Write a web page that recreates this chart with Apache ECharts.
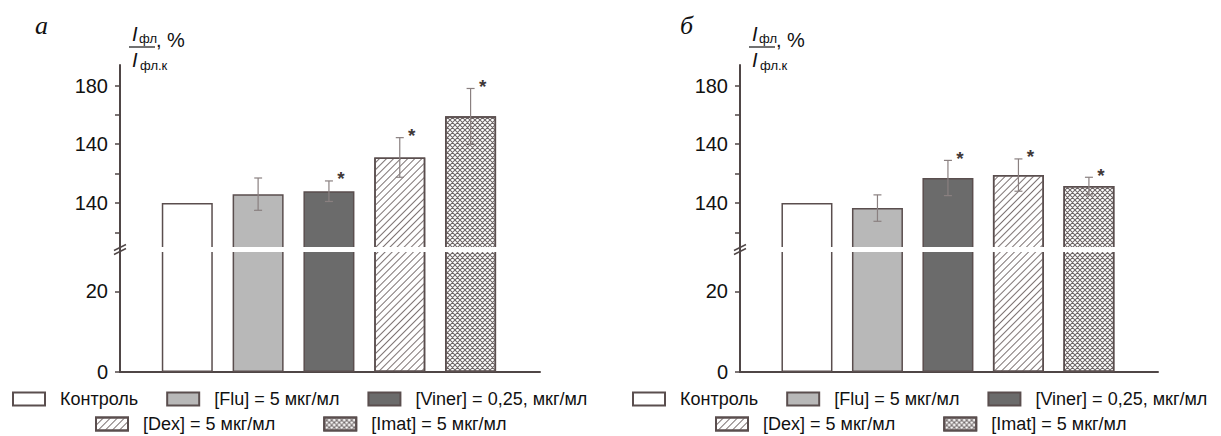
<!DOCTYPE html>
<html>
<head>
<meta charset="utf-8">
<script src="https://cdn.jsdelivr.net/npm/echarts@6/dist/echarts.min.js"></script>
<style>
html,body{margin:0;padding:0;background:#fff;}
#chart{width:1221px;height:436px;}
</style>
</head>
<body>
<div id="chart"></div>
<script>
// ---------- DATA ----------
const categories = ['Контроль', '[Flu] = 5 мкг/мл', '[Viner] = 0,25, мкг/мл', '[Dex] = 5 мкг/мл', '[Imat] = 5 мкг/мл'];
const panelLabels = ['а', 'б'];
const valuesA = [100, 106, 108, 131, 159];
const errorsA = [0, 11, 7, 13.5, 19];
const starsA  = [false, false, true, true, true];
const valuesB = [100, 96.5, 117, 119, 111.5];
const errorsB = [0, 9, 12, 11, 6];
const starsB  = [false, false, true, true, true];
const yTickValues = [0, 20, 100, 140, 180];
const yTickLabels = ['0', '20', '140', '140', '180'];
const yMinorTicks = [80, 120, 160];

// ---------- broken-axis scale ----------
const BREAK_LOW = 29.8, BREAK_HIGH = 70, LOW_SCALE = 4.025, UP_SCALE = 1.4667, GAP = 5;
const Y_TOP = 194;
function toAxis(v) {
  if (v <= BREAK_LOW) return v * LOW_SCALE;
  return BREAK_LOW * LOW_SCALE + GAP + (v - BREAK_HIGH) * UP_SCALE;
}
const X_MIN = 0.05, X_MAX = 5.98;

const AXIS_COLOR = '#4f4646';
const BORDER = '#5a4e4e';
const ERR_COLOR = '#8a8080';
const CROSS_PATH = 'path://M0,0L1.5,0L10,8.5L10,10L8.5,10L0,1.5Z M8.5,0L10,0L10,1.5L1.5,10L0,10L0,8.5Z';
const styles = [
  {color: '#ffffff'},
  {color: '#b8b8b8'},
  {color: '#6b6b6b'},
  {color: '#ffffff', decal: {symbol: 'rect', symbolSize: 1, color: '#7d7373', backgroundColor: '#ffffff', dashArrayX: [1, 0], dashArrayY: [1, 4], rotation: -Math.PI / 4}},
  {color: '#ffffff', decal: {symbol: CROSS_PATH, symbolSize: 1, symbolKeepAspect: false, color: '#6e6666', backgroundColor: '#ffffff', dashArrayX: [5, 0], dashArrayY: [5, 0], rotation: 0}}
];

const panels = [
  {values: valuesA, errors: errorsA, stars: starsA, left: 120, width: 420},
  {values: valuesB, errors: errorsB, stars: starsB, left: 740, width: 418}
];

const grids = [], xAxes = [], yAxes = [], series = [], legends = [], graphics = [];
const labelPos = yTickValues.map(toAxis);

panels.forEach((p, pi) => {
  grids.push({left: p.left, top: 65, width: p.width, height: 307, containLabel: false});
  xAxes.push({
    type: 'value', gridIndex: pi, min: X_MIN, max: X_MAX,
    axisLine: {show: true, lineStyle: {color: AXIS_COLOR, width: 2}},
    axisTick: {show: false}, axisLabel: {show: false}, splitLine: {show: false}
  });
  yAxes.push({
    type: 'value', gridIndex: pi, min: 0, max: toAxis(Y_TOP),
    axisLine: {show: true, lineStyle: {color: AXIS_COLOR, width: 2}},
    axisTick: {show: true, length: 5, lineStyle: {color: AXIS_COLOR, width: 1.5},
      customValues: yTickValues.concat(yMinorTicks).map(toAxis)},
    axisLabel: {show: true, customValues: labelPos, margin: 12, color: '#111',
      fontFamily: 'Liberation Sans', fontSize: 20,
      formatter: function (val) {
        let best = 0;
        labelPos.forEach((q, i) => { if (Math.abs(q - val) < Math.abs(labelPos[best] - val)) best = i; });
        return yTickLabels[best];
      }},
    splitLine: {show: false}
  });
  categories.forEach((name, k) => {
    series.push({
      type: 'bar', name: name, xAxisIndex: pi, yAxisIndex: pi,
      barWidth: 51, barGap: '-100%',
      itemStyle: Object.assign({borderColor: BORDER, borderWidth: 1.5}, styles[k]),
      data: [[k + 1, toAxis(p.values[k])]],
      z: 2
    });
  });
  // break band (decoration)
  series.push({
    type: 'custom', xAxisIndex: pi, yAxisIndex: pi, z: 5, silent: true,
    data: [[X_MIN, toAxis(BREAK_LOW), toAxis(BREAK_LOW) + GAP]],
    renderItem: function (params, api) {
      const a = api.coord([api.value(0), api.value(1)]);
      const b = api.coord([X_MAX, api.value(2)]);
      const ym = (a[1] + b[1]) / 2;
      return {type: 'group', children: [
        {type: 'rect', shape: {x: a[0] + 1.5, y: b[1], width: b[0] - a[0], height: a[1] - b[1]}, style: {fill: '#ffffff'}},
        {type: 'line', shape: {x1: a[0] - 6, y1: ym + 1, x2: a[0] + 6, y2: ym - 5}, style: {stroke: AXIS_COLOR, lineWidth: 1.5}},
        {type: 'line', shape: {x1: a[0] - 6, y1: ym + 5, x2: a[0] + 6, y2: ym - 1}, style: {stroke: AXIS_COLOR, lineWidth: 1.5}}
      ]};
    }
  });
  // error bars + significance marks
  series.push({
    type: 'custom', xAxisIndex: pi, yAxisIndex: pi, z: 6, silent: true,
    data: p.values.map((v, k) => [k + 1, toAxis(v + p.errors[k]), toAxis(v - p.errors[k]), p.errors[k], p.stars[k] ? 1 : 0]),
    renderItem: function (params, api) {
      const top = api.coord([api.value(0), api.value(1)]);
      const bot = api.coord([api.value(0), api.value(2)]);
      const children = [];
      if (api.value(3) > 0) {
        const st = {stroke: ERR_COLOR, lineWidth: 1.2};
        children.push({type: 'line', shape: {x1: top[0], y1: top[1], x2: bot[0], y2: bot[1]}, style: st});
        children.push({type: 'line', shape: {x1: top[0] - 4, y1: top[1], x2: top[0] + 4, y2: top[1]}, style: st});
        children.push({type: 'line', shape: {x1: bot[0] - 4, y1: bot[1], x2: bot[0] + 4, y2: bot[1]}, style: st});
      }
      if (api.value(4)) {
        children.push({type: 'text', x: top[0] + 12, y: top[1] - 2,
          style: {text: '*', fill: '#3f3838', font: 'bold 19px "Liberation Sans"', textAlign: 'center', textVerticalAlign: 'middle'}});
      }
      return {type: 'group', children: children};
    }
  });
  const off = pi === 0 ? 0 : 620;
  const legBase = {orient: 'horizontal', itemWidth: 32, itemHeight: 13, icon: 'rect', selectedMode: false, padding: 0,
    textStyle: {fontFamily: 'Liberation Sans', fontSize: 18, color: '#111', padding: [0, 0, 0, 10]}};
  legends.push(Object.assign({}, legBase, {left: 12 + off, top: 390, itemGap: 28, data: categories.slice(0, 3)}));
  legends.push(Object.assign({}, legBase, {left: 95 + off, top: 415, itemGap: 48, data: categories.slice(3)}));
  // panel letter and axis name
  const lx = pi === 0 ? 35 : 680;
  graphics.push({type: 'text', left: lx, top: 12, style: {text: panelLabels[pi], font: 'italic 26px "Liberation Serif"', fill: '#111'}});
  const ax = p.left;
  graphics.push({type: 'text', x: ax + 12, y: 24, style: {text: 'I', font: 'italic 20px "Liberation Sans"', fill: '#111'}});
  graphics.push({type: 'text', x: ax + 19, y: 32, style: {text: 'фл', font: '13px "Liberation Sans"', fill: '#111'}});
  graphics.push({type: 'text', x: ax + 36, y: 30, style: {text: ', %', font: '20px "Liberation Sans"', fill: '#111'}});
  graphics.push({type: 'line', shape: {x1: ax + 9, y1: 47, x2: ax + 35, y2: 47}, style: {stroke: '#111', lineWidth: 1.2}});
  graphics.push({type: 'text', x: ax + 12, y: 50, style: {text: 'I', font: 'italic 20px "Liberation Sans"', fill: '#111'}});
  graphics.push({type: 'text', x: ax + 20, y: 59, style: {text: 'фл.к', font: '13px "Liberation Sans"', fill: '#111'}});
});

const chart = echarts.init(document.getElementById('chart'), null, {renderer: 'svg'});
chart.setOption({
  animation: false,
  backgroundColor: '#ffffff',
  grid: grids, xAxis: xAxes, yAxis: yAxes,
  legend: legends, series: series, graphic: graphics
});
</script>
</body>
</html>
